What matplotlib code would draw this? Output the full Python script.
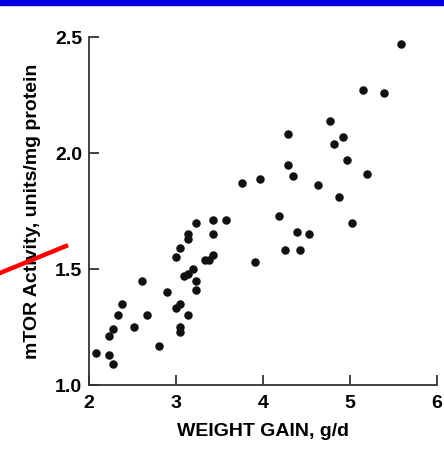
import matplotlib
matplotlib.use("Agg")
import matplotlib.pyplot as plt
from matplotlib.patches import Rectangle
from matplotlib.lines import Line2D

# weight gain (g/d) and mTOR activity (units/mg protein)
weight_gain = [2.08, 2.23, 2.28, 2.23, 2.28, 2.33, 2.38, 2.52, 2.61, 2.67,
               2.81, 2.90, 3.00, 3.05, 3.00, 3.05, 3.05, 3.05, 3.14, 3.09,
               3.14, 3.19, 3.23, 3.23, 3.14, 3.14, 3.23, 3.43, 3.57, 3.43,
               3.33, 3.38, 3.43, 3.91, 4.18, 3.76, 3.96, 5.59, 5.15, 5.39,
               4.77, 4.29, 4.92, 4.82, 4.96, 4.29, 4.34, 5.20, 4.63, 4.87,
               5.02, 4.39, 4.53, 4.25, 4.43]
mtor = [1.14, 1.13, 1.09, 1.21, 1.24, 1.30, 1.35, 1.25, 1.45, 1.30,
        1.17, 1.40, 1.55, 1.59, 1.33, 1.35, 1.25, 1.23, 1.30, 1.47,
        1.48, 1.50, 1.45, 1.41, 1.65, 1.63, 1.70, 1.71, 1.71, 1.65,
        1.54, 1.54, 1.56, 1.53, 1.73, 1.87, 1.89, 2.47, 2.27, 2.26,
        2.14, 2.08, 2.07, 2.04, 1.97, 1.95, 1.90, 1.91, 1.86, 1.81,
        1.70, 1.66, 1.65, 1.58, 1.58]

xticks = [2, 3, 4, 5, 6]
yticks = [1.0, 1.5, 2.0, 2.5]

plt.rcParams['font.family'] = ['Liberation Sans', 'DejaVu Sans']
plt.rcParams['font.weight'] = 'bold'

fig = plt.figure(figsize=(4.44, 4.55), dpi=100)
ax = fig.add_axes([89 / 444, 1 - 385 / 455, (437 - 89) / 444, (385 - 37) / 455])

ax.scatter(weight_gain, mtor, s=26, color='#111111', zorder=3, clip_on=False)

ax.set_xlim(2, 6)
ax.set_ylim(1.0, 2.5)
ax.set_xticks(xticks)
ax.set_yticks(yticks)
ax.set_xticklabels([str(t) for t in xticks])
ax.set_yticklabels(['%.1f' % t for t in yticks])

for side in ['top', 'right']:
    ax.spines[side].set_visible(False)
for side in ['left', 'bottom']:
    ax.spines[side].set_linewidth(1.3)
    ax.spines[side].set_color('#333333')

ax.tick_params(direction='in', length=7, width=1.3, color='#333333',
               labelsize=14)
ax.tick_params(axis='x', pad=7)
ax.tick_params(axis='y', pad=5)

ax.set_xlabel('WEIGHT GAIN, g/d', fontsize=14, fontweight='bold', labelpad=8)
ax.set_ylabel('mTOR Activity, units/mg protein', fontsize=14,
              fontweight='bold', labelpad=10)

# blue band at top and red pointer line at left
fig.patches.append(Rectangle((0, 1 - 5 / 455), 1, 5 / 455,
                             transform=fig.transFigure, color='#0000e0'))
fig.lines.append(Line2D([0, 66 / 444], [1 - 273 / 455, 1 - 246 / 455],
                        transform=fig.transFigure, color='#ff0000',
                        linewidth=3.2, zorder=10))

fig.savefig('out.png', dpi=100)
